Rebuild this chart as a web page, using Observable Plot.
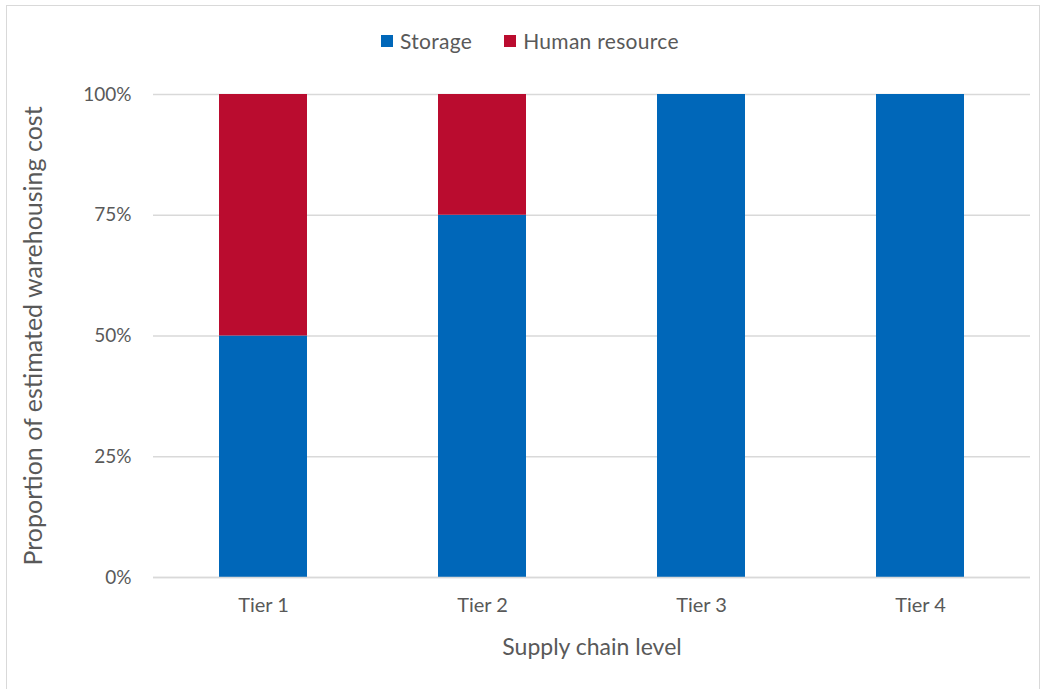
<!DOCTYPE html>
<html>
<head>
<meta charset="utf-8">
<script src="https://cdn.jsdelivr.net/npm/d3@7"></script>
<script src="https://cdn.jsdelivr.net/npm/@observablehq/plot@0.6"></script>
<style>
  html, body { margin: 0; padding: 0; background: #fff; }
  #wrap { position: relative; width: 1051px; height: 689px; overflow: hidden; font-family: Lato, "Open Sans", sans-serif; color: #595959; }
  #border { position: absolute; left: 6px; top: 5px; width: 1034px; height: 700px; border: 1.5px solid #d9d9d9; box-sizing: border-box; }
  #legend { position: absolute; top: 28px; left: 381px; display: flex; gap: 32px; font-size: 21px; letter-spacing: 0.3px; }
  .item { display: flex; align-items: center; gap: 7px; }
  .sw { width: 12px; height: 12px; display: inline-block; }
  #chart { position: absolute; left: 0; top: 70px; }
</style>
</head>
<body>
<div id="wrap">
  <div id="border"></div>
  <div id="legend"></div>
  <div id="chart"></div>
</div>
<script>
const categories = ["Tier 1", "Tier 2", "Tier 3", "Tier 4"];
const seriesNames = ["Storage", "Human resource"];
const storage = [0.50, 0.75, 1.00, 1.00];
const humanResource = [0.50, 0.25, 0.00, 0.00];
const colors = ["#0067B9", "#BA0C2F"];
const yTicks = [0, 0.25, 0.5, 0.75, 1];
const yTitle = "Proportion of estimated warehousing cost";
const xTitle = "Supply chain level";

const data = [];
categories.forEach((c, i) => {
  data.push({tier: c, series: seriesNames[0], value: storage[i]});
  data.push({tier: c, series: seriesNames[1], value: humanResource[i]});
});

const legend = document.getElementById("legend");
seriesNames.forEach((s, i) => {
  const it = document.createElement("div");
  it.className = "item";
  it.innerHTML = `<span class="sw" style="background:${colors[i]}"></span><span>${s}</span>`;
  legend.appendChild(it);
});

const chart = Plot.plot({
  width: 1051,
  height: 619,
  marginLeft: 153,
  marginRight: 21,
  marginTop: 24,
  marginBottom: 112,
  style: {fontFamily: "Lato, 'Open Sans', sans-serif", fontSize: "19px", color: "#595959", background: "transparent"},
  x: {domain: categories, paddingInner: 0.6, paddingOuter: 0.3, label: null},
  y: {domain: [0, 1], label: null},
  color: {domain: seriesNames, range: colors},
  marks: [
    Plot.gridY(yTicks, {stroke: "#d9d9d9", strokeOpacity: 1, strokeWidth: 1.5}),
    Plot.barY(data, {x: "tier", y: "value", fill: "series", order: seriesNames}),
    Plot.axisY({ticks: yTicks, tickFormat: d => Math.round(d * 100) + "%", tickSize: 0, tickPadding: 22, label: null, fill: "#595959", fontSize: 19}),
    Plot.axisX({tickSize: 0, tickPadding: 20, label: null, fill: "#595959", fontSize: 20}),
    Plot.ruleY([0], {stroke: "#d9d9d9", strokeWidth: 1.5}),
    Plot.text([yTitle], {frameAnchor: "left", dx: -120, rotate: -90, textAnchor: "middle", fontSize: 25, fill: "#595959"}),
    Plot.text([xTitle], {frameAnchor: "bottom", dy: 77, textAnchor: "middle", fontSize: 23, fill: "#595959"})
  ]
});
document.getElementById("chart").appendChild(chart);
</script>
</body>
</html>
